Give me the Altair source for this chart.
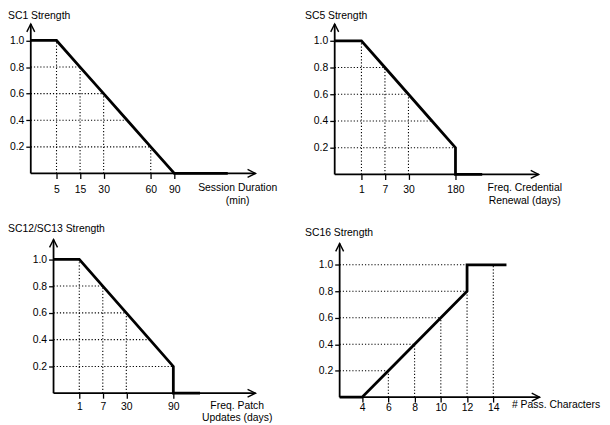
import altair as alt
import pandas as pd

FONT = "Liberation Sans"

# ---------------- data ----------------
# SC1: strength vs session duration (min)
sc1_ticks = [5, 15, 30, 60, 90]
sc1_line_x = [0, 5, 15, 30, 45, 60, 90, 150]
sc1_line_y = [1.0, 1.0, 0.8, 0.6, 0.4, 0.2, 0.0, 0.0]
sc1_hx = [15, 30, 45, 60]
sc1_hy = [0.8, 0.6, 0.4, 0.2]
sc1_vx = [5, 15, 30, 60]
sc1_vy = [1.0, 0.8, 0.6, 0.2]

# SC5: strength vs credential renewal frequency (days)
sc5_ticks = [1, 7, 30, 180]
sc5_line_x = [0, 1, 7, 30, 105, 180, 180, 240]
sc5_line_y = [1.0, 1.0, 0.8, 0.6, 0.4, 0.2, 0.0, 0.0]
sc5_hx = [7, 30, 105, 180]
sc5_hy = [0.8, 0.6, 0.4, 0.2]
sc5_vx = [1, 7, 30]
sc5_vy = [1.0, 0.8, 0.6]

# SC12/SC13: strength vs patch update frequency (days)
sc12_ticks = [1, 7, 30, 90]
sc12_line_x = [0, 1, 7, 30, 60, 90, 90, 120]
sc12_line_y = [1.0, 1.0, 0.8, 0.6, 0.4, 0.2, 0.0, 0.0]
sc12_hx = [7, 30, 60, 90]
sc12_hy = [0.8, 0.6, 0.4, 0.2]
sc12_vx = [1, 7, 30]
sc12_vy = [1.0, 0.8, 0.6]

# SC16: strength vs number of password characters
sc16_ticks = [4, 6, 8, 10, 12, 14]
sc16_line_x = [0, 4, 6, 8, 10, 12, 12, 15]
sc16_line_y = [0.0, 0.0, 0.2, 0.4, 0.6, 0.8, 1.0, 1.0]
sc16_hx = [12, 12, 10, 8, 6]
sc16_hy = [1.0, 0.8, 0.6, 0.4, 0.2]
sc16_vx = [6, 8, 10, 12, 14]
sc16_vy = [0.2, 0.4, 0.6, 0.8, 1.0]

y_ticks = [0.2, 0.4, 0.6, 0.8, 1.0]

# ---------------- layout (page pixel positions of the schematic axes) ----------------
PANELS = [
    dict(name="SC1 Strength", xtitle=["Session Duration", "(min)"], xtitle_align="center",
         ticks=sc1_ticks, lx=sc1_line_x, ly=sc1_line_y, hx=sc1_hx, hy=sc1_hy, vx=sc1_vx, vy=sc1_vy,
         box=(8, 8, 330, 165), yaxis_x=31, y0=172, y1=37.7, ytip=21,
         xmap={0: 31, 5: 57, 15: 80.8, 30: 104.6, 60: 152.2, 90: 176, 150: 230, 180: 258}, xtip=180,
         title_pos=(8, 8), xtitle_pos=(240, 182), lab_pad=6),
    dict(name="SC5 Strength", xtitle=["Freq. Credential", "Renewal (days)"], xtitle_align="center",
         ticks=sc5_ticks, lx=sc5_line_x, ly=sc5_line_y, hx=sc5_hx, hy=sc5_hy, vx=sc5_vx, vy=sc5_vy,
         box=(338, 8, 270, 165), yaxis_x=338, y0=173, y1=38, ytip=21,
         xmap={0: 338, 1: 365, 7: 388.75, 30: 412.5, 180: 460, 240: 487, 365: 544}, xtip=365,
         title_pos=(308, 8), xtitle_pos=(530, 182), lab_pad=5),
    dict(name="SC12/SC13 Strength", xtitle=["Freq. Patch", "Updates (days)"], xtitle_align="center",
         ticks=sc12_ticks, lx=sc12_line_x, ly=sc12_line_y, hx=sc12_hx, hy=sc12_hy, vx=sc12_vx, vy=sc12_vy,
         box=(8, 173, 330, 225), yaxis_x=54, y0=394, y1=258.7, ytip=238.7,
         xmap={0: 54, 1: 80, 7: 103.75, 30: 127.5, 90: 175, 120: 202, 180: 258}, xtip=180,
         title_pos=(8, 223), xtitle_pos=(239.5, 401.5), lab_pad=3),
    dict(name="SC16 Strength", xtitle=["# Pass. Characters"], xtitle_align="left",
         ticks=sc16_ticks, lx=sc16_line_x, ly=sc16_line_y, hx=sc16_hx, hy=sc16_hy, vx=sc16_vx, vy=sc16_vy,
         box=(338, 173, 270, 225), yaxis_x=343, y0=398, y1=264.3, ytip=242.7,
         xmap={0: 343, 4: 365.7, 6: 392.2, 8: 418.7, 10: 445.2, 12: 471.7, 14: 498.2, 15: 511.5, 17: 545},
         xtip=17, title_pos=(308, 227), xtitle_pos=(517, 401), lab_pad=0),
]

UP = "M-0.5,1L0,0L0.5,1"
RIGHT = "M-1,-0.5L0,0L-1,0.5"


def panel(c):
    left, top, W, H = c["box"]
    xd = sorted(c["xmap"])
    xs = alt.Scale(domain=xd, range=[c["xmap"][k] - left for k in xd], nice=False, zero=False)
    ys = alt.Scale(domain=[0, 1], range=[c["y0"] - top, c["y1"] - top], nice=False, zero=False)
    xa = alt.Axis(values=c["ticks"], orient="bottom", offset=-(top + H - c["y0"]), domain=False,
                  grid=False, tickSize=5, tickWidth=1.3, tickColor="black", labelFont=FONT,
                  labelFontSize=10.5, labelColor="black", labelPadding=c["lab_pad"], labelFlush=False,
                  labelOverlap=False, format="d", title=None)
    ya = alt.Axis(values=y_ticks, orient="left", offset=-(c["yaxis_x"] - left), domain=False,
                  grid=False, tickSize=5, tickWidth=1.3, tickColor="black", labelFont=FONT,
                  labelFontSize=10.5, labelColor="black", labelPadding=2, labelFlush=False,
                  labelOverlap=False, format=".1f", title=None)
    ytip_v = (c["y0"] - c["ytip"]) / (c["y0"] - c["y1"])

    def X(f):
        return alt.X(f + ":Q", scale=xs, axis=xa)

    def Y(f):
        return alt.Y(f + ":Q", scale=ys, axis=ya)

    axes_df = pd.DataFrame({"x": [0, 0], "x2": [c["xtip"], 0], "y": [0, 0], "y2": [0, ytip_v]})
    axes = alt.Chart(axes_df).mark_rule(color="black", strokeWidth=1.8).encode(
        x=X("x"), x2="x2", y=Y("y"), y2="y2")

    arr_r = alt.Chart(pd.DataFrame({"x": [c["xtip"]], "y": [0]})).mark_point(
        shape=RIGHT, size=256, filled=False, color="black", strokeWidth=1.4, opacity=1
    ).encode(x=X("x"), y=Y("y"))
    arr_u = alt.Chart(pd.DataFrame({"x": [0], "y": [ytip_v]})).mark_point(
        shape=UP, size=256, filled=False, color="black", strokeWidth=1.4, opacity=1
    ).encode(x=X("x"), y=Y("y"))

    hdf = pd.DataFrame({"x0": [0] * len(c["hx"]), "x": c["hx"], "y": c["hy"]})
    hg = alt.Chart(hdf).mark_rule(color="black", strokeWidth=1.1, strokeDash=[1.2, 2]).encode(
        x=X("x0"), x2="x", y=Y("y"))
    vdf = pd.DataFrame({"x": c["vx"], "y0": [0] * len(c["vx"]), "y": c["vy"]})
    vg = alt.Chart(vdf).mark_rule(color="black", strokeWidth=1.1, strokeDash=[1.2, 2]).encode(
        x=X("x"), y=Y("y0"), y2="y")

    ldf = pd.DataFrame({"x": c["lx"], "y": c["ly"], "i": list(range(len(c["lx"])))})
    line = alt.Chart(ldf).mark_line(color="black", strokeWidth=2.8).encode(
        x=X("x"), y=Y("y"), order="i:Q")

    tx, ty = c["title_pos"]
    ytitle = alt.Chart(pd.DataFrame({"x": [0], "y": [ytip_v]})).mark_text(
        text=c["name"], align="left", baseline="top", font=FONT, fontSize=10.5, color="black",
        dx=tx - c["yaxis_x"], dy=ty - c["ytip"]
    ).encode(x=X("x"), y=Y("y"))

    xx, xy = c["xtitle_pos"]
    xtitle = alt.Chart(pd.DataFrame({"x": [c["xtip"]], "y": [0]})).mark_text(
        text=c["xtitle"], align=c["xtitle_align"], baseline="top", font=FONT, fontSize=10.5,
        color="black", lineHeight=13, dx=xx - c["xmap"][c["xtip"]], dy=xy - c["y0"]
    ).encode(x=X("x"), y=Y("y"))

    return alt.layer(hg, vg, axes, arr_r, arr_u, line, ytitle, xtitle).properties(width=W, height=H)


charts = [panel(c) for c in PANELS]
chart = alt.concat(*charts, columns=2, spacing=0, bounds="flush", align="each").properties(
    padding=0, background="white"
).configure_view(strokeWidth=0)

chart.save("out.html", embed_options={"renderer": "svg", "actions": False})
